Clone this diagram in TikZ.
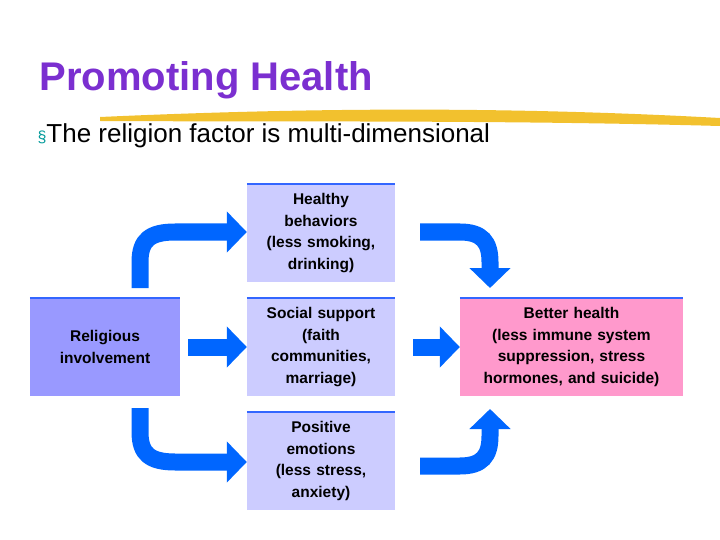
\documentclass[tikz,border=0pt]{standalone}
\usepackage{fontspec}
\setmainfont{Liberation Sans}
\usetikzlibrary{arrows.meta}
\definecolor{ttl}{HTML}{7B2FD0}
\definecolor{lav}{HTML}{CCCCFF}
\definecolor{rel}{HTML}{9999FF}
\definecolor{pnk}{HTML}{FF99CC}
\definecolor{edge}{HTML}{3366FF}
\definecolor{arr}{HTML}{0066FF}
\definecolor{yel}{HTML}{F2C12E}
\definecolor{bul}{HTML}{009999}
\tikzset{
  box/.style={fill=#1, minimum height=98pt, text width=140pt, align=center, inner sep=0pt, font=\bfseries\fontsize{15.5}{21.5}\selectfont},
  topline/.style={draw=edge, line width=2.5pt},
  fat/.style={draw=arr, line width=17pt, -{Triangle[length=20pt,width=40pt]}}
}
\begin{document}
\begin{tikzpicture}[x=1pt,y=-1pt]
\useasboundingbox (0,0) rectangle (720,540);
\node[anchor=west, text=ttl, font=\bfseries\fontsize{40}{44}\selectfont] (title) at (36,80) {Promoting Health};
\fill[yel] (100,117) .. controls (300,108) and (500,106) .. (720,118) -- (720,126) .. controls (500,120) and (300,122) .. (100,121) -- cycle;
\node[anchor=west, font=\fontsize{26}{30}\selectfont] (bullet) at (34,136) {\textcolor{bul}{\fontsize{16}{16}\selectfont§}The religion factor is multi-dimensional};
\node[box=lav, minimum width=148pt] (hb) at (321,233) {Healthy\\behaviors\\(less smoking,\\drinking)};
\node[box=lav, minimum width=148pt] (ss) at (321,347) {Social support\\(faith\\communities,\\marriage)};
\node[box=lav, minimum width=148pt] (pe) at (321,461) {Positive\\emotions\\(less stress,\\anxiety)};
\node[box=rel, minimum width=150pt] (ri) at (105,347) {Religious\\involvement};
\node[box=pnk, minimum width=223pt, text width=215pt] (bh) at (571.5,347) {Better health\\(less immune system\\suppression, stress\\hormones, and suicide)};
\foreach \n in {hb,ss,pe,ri,bh} \draw[topline] (\n.north west) -- (\n.north east);
\draw[fat] ([xshift=8pt]ri.east) -- (ss.west);
\draw[fat] ([xshift=18pt]ss.east) -- (bh.west);
\draw[fat] (140,288) -- (140,262) .. controls (140,240) and (150,232) .. (175,232) -- (hb.west|-0,232);
\draw[fat] (140,408) -- (140,432) .. controls (140,454) and (150,462) .. (175,462) -- (pe.west|-0,462);
\draw[fat] (420,232) -- (460,232) .. controls (482,232) and (490,242) .. (490,262) -- (490,288);
\draw[fat] (420,466) -- (460,466) .. controls (482,466) and (490,456) .. (490,436) -- (490,409);
\end{tikzpicture}
\end{document}
